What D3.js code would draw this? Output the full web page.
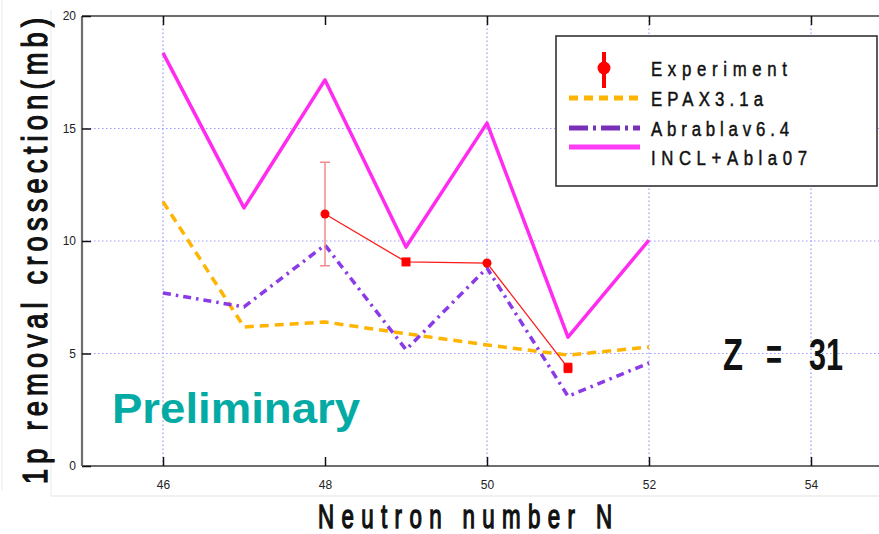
<!DOCTYPE html>
<html>
<head>
<meta charset="utf-8">
<script src="https://cdn.jsdelivr.net/npm/d3@7"></script>
<style>
  html, body { margin: 0; padding: 0; background: #fff; }
  svg { display: block; }
  text { font-family: "Liberation Sans", Arial, sans-serif; }
</style>
</head>
<body>
<svg id="chart" width="879" height="534"></svg>
<script>
// Neutron numbers of the isotopes (Z = 31)
const neutronN = [46, 47, 48, 49, 50, 51, 52];

// Model predictions of the 1p removal cross section (mb)
const epax = [11.75, 6.18, 6.4, 5.88, 5.38, 4.93, 5.29];
const abrablav = [7.69, 7.07, 9.82, 5.17, 8.8, 3.1, 4.58];
const inclAbla = [18.36, 11.47, 17.16, 9.73, 15.24, 5.73, 10.04];

// Measured values with uncertainties
const expN = [48, 49, 50, 51];
const expValue = [11.2, 9.07, 9.02, 4.36];
const expError = [2.3, 0, 0, 0.2];
const expShape = ["circle", "square", "circle", "square"];

// Axis ticks
const xTicks = [46, 48, 50, 52, 54];
const xTickLabels = ["46", "48", "50", "52", "54"];
const xGrid = [46, 50, 52, 54];
const yTicks = [0, 5, 10, 15, 20];

const legendLabels = ["Experiment", "EPAX3.1a", "Abrablav6.4", "INCL+Abla07"];

const svg = d3.select("#chart");

const x = d3.scaleLinear().domain([45, 55]).range([82, 892]);
const y = d3.scaleLinear().domain([0, 20]).range([466, 16]);

// Narrow, letter-spaced text: glyphs squeezed horizontally, spacing widened to fill `width`
function narrowText(parent, str, opts) {
  const sx = opts.scaleX || 0.72;
  let t = `translate(${opts.x},${opts.y})`;
  if (opts.rotate) t += ` rotate(${opts.rotate})`;
  t += ` scale(${sx},${opts.scaleY || 1})`;
  return parent.append("text")
    .attr("transform", t)
    .attr("text-anchor", opts.anchor || "start")
    .attr("font-family", "Liberation Sans, Arial, sans-serif")
    .attr("font-weight", opts.weight || 400)
    .attr("font-size", opts.size)
    .attr("fill", "#111")
    .attr("stroke", "#111").attr("stroke-width", opts.stroke || 0)
    .attr("textLength", opts.width / sx)
    .attr("lengthAdjust", "spacing")
    .text(str);
}

// faint outer frame around the plot
svg.append("line").attr("x1", 51).attr("x2", 879).attr("y1", 496).attr("y2", 496)
  .attr("stroke", "#ececec").attr("stroke-width", 1.5);
svg.append("line").attr("x1", 51).attr("x2", 51).attr("y1", 10).attr("y2", 496)
  .attr("stroke", "#f0f0f0").attr("stroke-width", 1.5);
svg.append("line").attr("x1", 2).attr("x2", 2).attr("y1", 0).attr("y2", 490)
  .attr("stroke", "#f0f0f0").attr("stroke-width", 1.5);

const plot = svg.append("g");

// dotted grid
plot.selectAll("line.hgrid").data(yTicks.filter(d => d > 0 && d < 20)).join("line")
  .attr("class", "hgrid")
  .attr("x1", x(45)).attr("x2", x(55))
  .attr("y1", d => y(d)).attr("y2", d => y(d))
  .attr("stroke", "#9a9aff").attr("stroke-width", 1.2)
  .attr("stroke-dasharray", "1.5 2.5");
plot.selectAll("line.vgrid").data(xGrid).join("line")
  .attr("class", "vgrid")
  .attr("x1", d => x(d)).attr("x2", d => x(d))
  .attr("y1", y(0)).attr("y2", y(20))
  .attr("stroke", "#9a9aff").attr("stroke-width", 1.2)
  .attr("stroke-dasharray", "1.5 2.5");

// axes frame
const frameColor = "#6e6e6e";
plot.append("line").attr("x1", x(45)).attr("x2", x(55)).attr("y1", y(0)).attr("y2", y(0))
  .attr("stroke", frameColor).attr("stroke-width", 2.2);
plot.append("line").attr("x1", x(45)).attr("x2", x(55)).attr("y1", y(20)).attr("y2", y(20))
  .attr("stroke", frameColor).attr("stroke-width", 2.2);
plot.append("line").attr("x1", x(45)).attr("x2", x(45)).attr("y1", y(0)).attr("y2", y(20))
  .attr("stroke", frameColor).attr("stroke-width", 2.2);

// x ticks (inward, bottom and top)
const xAxisBottom = d3.axisBottom(x).tickValues(xTicks)
  .tickFormat((d, i) => xTickLabels[i]).tickSize(-9).tickPadding(14);
const gx = plot.append("g").attr("transform", `translate(0,${y(0)})`).call(xAxisBottom);
gx.select(".domain").remove();
gx.selectAll(".tick line").attr("stroke", "#111").attr("stroke-width", 1.5);
gx.selectAll(".tick text").attr("font-size", 12).attr("fill", "#222")
  .attr("font-family", "Liberation Sans, Arial, sans-serif");

const gxTop = plot.append("g").attr("transform", `translate(0,${y(20)})`)
  .call(d3.axisTop(x).tickValues(xTicks).tickSize(-9).tickFormat(""));
gxTop.select(".domain").remove();
gxTop.selectAll(".tick line").attr("stroke", "#111").attr("stroke-width", 1.5);

// y ticks
const gy = plot.append("g").attr("transform", `translate(${x(45)},0)`)
  .call(d3.axisLeft(y).tickValues(yTicks).tickSize(-9).tickPadding(6));
gy.select(".domain").remove();
gy.selectAll(".tick line").attr("stroke", "#111").attr("stroke-width", 1.5);
gy.selectAll(".tick text").attr("font-size", 12).attr("fill", "#222")
  .attr("font-family", "Liberation Sans, Arial, sans-serif");

// model curves
const line = d3.line().x((d, i) => x(neutronN[i])).y(d => y(d));

plot.append("path").datum(epax).attr("d", line)
  .attr("fill", "none").attr("stroke", "#ffb400").attr("stroke-width", 3.5)
  .attr("stroke-dasharray", "9 6");
plot.append("path").datum(abrablav).attr("d", line)
  .attr("fill", "none").attr("stroke", "#8a3ae6").attr("stroke-width", 3.5)
  .attr("stroke-dasharray", "8 5 2.5 5");
plot.append("path").datum(inclAbla).attr("d", line)
  .attr("fill", "none").attr("stroke", "#ff2cf0").attr("stroke-width", 3.5)
  .attr("stroke-linejoin", "round");

// experiment
const expLine = d3.line().x((d, i) => x(expN[i])).y(d => y(d));
plot.append("path").datum(expValue).attr("d", expLine)
  .attr("fill", "none").attr("stroke", "#ff1a1a").attr("stroke-width", 1.3);

const eg = plot.selectAll("g.exp").data(expValue).join("g").attr("class", "exp");
eg.each(function (d, i) {
  const g = d3.select(this);
  const cx = x(expN[i]), cy = y(d);
  if (expError[i] > 0) {
    const c = expError[i] > 1 ? "#f28b8b" : "#ff2020";
    const hw = expError[i] > 1 ? 5 : 4;
    g.append("line").attr("x1", cx).attr("x2", cx)
      .attr("y1", y(d + expError[i])).attr("y2", y(d - expError[i]))
      .attr("stroke", c).attr("stroke-width", 1.5);
    [d + expError[i], d - expError[i]].forEach(v => {
      g.append("line").attr("x1", cx - hw).attr("x2", cx + hw)
        .attr("y1", y(v)).attr("y2", y(v)).attr("stroke", c).attr("stroke-width", 1.5);
    });
  }
  if (expShape[i] === "circle") {
    g.append("circle").attr("cx", cx).attr("cy", cy).attr("r", 4.5).attr("fill", "#ff0000");
  } else {
    g.append("rect").attr("x", cx - 4.5).attr("y", cy - 4.5).attr("width", 9).attr("height", 9)
      .attr("fill", "#ff0000");
  }
});

// legend
const lg = svg.append("g");
lg.append("rect").attr("x", 556).attr("y", 36).attr("width", 321).attr("height", 150)
  .attr("fill", "#fff").attr("stroke", "#333").attr("stroke-width", 1.6);
const rowY = [68, 98, 128, 157];
lg.append("line").attr("x1", 604).attr("x2", 604).attr("y1", 52).attr("y2", 88)
  .attr("stroke", "#ff0000").attr("stroke-width", 4);
lg.append("circle").attr("cx", 604).attr("cy", 68).attr("r", 6.5).attr("fill", "#ff0000");
lg.append("line").attr("x1", 569).attr("x2", 640).attr("y1", rowY[1]).attr("y2", rowY[1])
  .attr("stroke", "#ffb400").attr("stroke-width", 5).attr("stroke-dasharray", "9 6");
lg.append("line").attr("x1", 569).attr("x2", 640).attr("y1", rowY[2]).attr("y2", rowY[2])
  .attr("stroke", "#7a2fb8").attr("stroke-width", 5).attr("stroke-dasharray", "19 5 3 5");
lg.append("line").attr("x1", 569).attr("x2", 640).attr("y1", 147).attr("y2", 147)
  .attr("stroke", "#ff3cf5").attr("stroke-width", 5);

const legendWidths = [136, 112, 138, 156];
legendLabels.forEach((d, i) => {
  narrowText(lg, d, { x: 651, y: rowY[i] + 8, size: 21, width: legendWidths[i],
                      scaleX: 0.8, stroke: 0.5 });
});

// annotations
svg.append("text").attr("x", 112).attr("y", 423)
  .attr("font-family", "Open Sans, sans-serif").attr("font-weight", 700)
  .attr("font-size", 42).attr("fill", "#04aaa4")
  .attr("textLength", 248).attr("lengthAdjust", "spacingAndGlyphs")
  .text("Preliminary");

const zt = svg.append("text").attr("y", 370)
  .attr("font-family", "Liberation Sans, Arial, sans-serif").attr("font-weight", 700)
  .attr("font-size", 44).attr("fill", "#111");
zt.append("tspan").attr("x", 723).attr("textLength", 20).attr("lengthAdjust", "spacingAndGlyphs").text("Z");
zt.append("tspan").attr("x", 766).attr("textLength", 16).attr("lengthAdjust", "spacingAndGlyphs").text("=");
zt.append("tspan").attr("x", 809).attr("textLength", 34).attr("lengthAdjust", "spacingAndGlyphs").text("31");

// axis titles
narrowText(svg, "Neutron number N", { x: 465, y: 528, size: 31, width: 294, anchor: "middle",
                                      scaleX: 0.72, scaleY: 1.05, stroke: 1.3 });
narrowText(svg, "1p removal crossection(mb)", { x: 47, y: 251, rotate: -90, size: 35,
                                                width: 466, anchor: "middle",
                                                scaleX: 0.78, stroke: 1.3 });
</script>
</body>
</html>
